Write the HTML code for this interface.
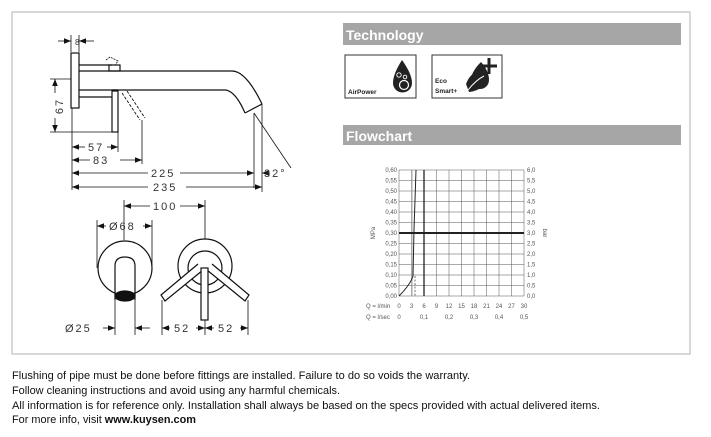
<!DOCTYPE html>
<html><head><meta charset="utf-8"><style>
html,body{margin:0;padding:0;background:#fff;}
svg{display:block;}
.d{font-family:"Liberation Sans",sans-serif;font-size:11px;fill:#333;letter-spacing:2px;}
.c{font-family:"Liberation Sans",sans-serif;font-size:6px;fill:#555;}
.n{font-family:"Liberation Sans",sans-serif;font-size:11px;fill:#111;}
</style></head><body>
<svg width="711" height="437" viewBox="0 0 711 437" xmlns="http://www.w3.org/2000/svg">
<defs>
<marker id="a" viewBox="0 0 10 10" refX="10" refY="5" markerWidth="9" markerHeight="9" orient="auto-start-reverse"><path d="M0,1 L10,5 L0,9 z" fill="#111"/></marker>
</defs>
<rect x="12" y="12" width="678" height="342" fill="none" stroke="#ccc" stroke-width="1.5"/>

<g stroke="#111" stroke-width="1.2" fill="none">
<rect x="71" y="53" width="8" height="55" fill="#fff"/>
<line x1="79" y1="65" x2="112" y2="65"/><line x1="79" y1="71" x2="112" y2="71"/>
<rect x="109" y="65" width="11" height="6"/>
<path d="M112,71 L232,71 Q246,71 262,104"/>
<path d="M112,90 L226,90 Q236,92 245,113"/>
<line x1="245" y1="113" x2="262" y2="104"/>
<line x1="79" y1="90" x2="118" y2="90"/><line x1="79" y1="97" x2="112" y2="97"/>
<rect x="112" y="91" width="6" height="41" fill="#fff"/>
<path d="M122,93 L140,120 M127,91 L145,118" stroke-dasharray="3,1.5" stroke-width="0.9"/>
<path d="M106,60 L110,57 L118,61 L115,65" stroke-dasharray="2,1" stroke-width="0.8"/>
<g stroke-width="0.8">
<line x1="71" y1="35" x2="71" y2="52"/><line x1="79" y1="35" x2="79" y2="52"/>
<line x1="58" y1="41" x2="71" y2="41" marker-end="url(#a)"/><line x1="94" y1="41" x2="79" y2="41" marker-end="url(#a)"/>
<line x1="50" y1="79" x2="71" y2="79"/><line x1="50" y1="132" x2="116" y2="132"/>
<line x1="55" y1="93" x2="55" y2="79" marker-end="url(#a)"/><line x1="55" y1="118" x2="55" y2="132" marker-end="url(#a)"/>
<line x1="72" y1="108" x2="72" y2="190"/>
<line x1="118" y1="132" x2="118" y2="152"/><line x1="142" y1="120" x2="142" y2="164"/>
<line x1="254" y1="113" x2="254" y2="188"/><line x1="262" y1="104" x2="262" y2="192"/>
<line x1="254" y1="113" x2="291" y2="168"/>
<line x1="85" y1="147" x2="72" y2="147" marker-end="url(#a)"/><line x1="107" y1="147" x2="118" y2="147" marker-end="url(#a)"/>
<line x1="90" y1="160" x2="72" y2="160" marker-end="url(#a)"/><line x1="120" y1="160" x2="142" y2="160" marker-end="url(#a)"/>
<line x1="148" y1="173" x2="72" y2="173" marker-end="url(#a)"/><line x1="180" y1="173" x2="254" y2="173" marker-end="url(#a)"/>
<line x1="270" y1="173" x2="262" y2="173" marker-end="url(#a)"/>
<line x1="148" y1="187" x2="72" y2="187" marker-end="url(#a)"/><line x1="186" y1="187" x2="262" y2="187" marker-end="url(#a)"/>
</g>
<circle cx="125" cy="268" r="27"/>
<path d="M115,300 L115,266 Q115,257 125,257 Q135,257 135,266 L135,300"/>
<ellipse cx="125" cy="296" rx="10" ry="5" fill="#111"/>
<circle cx="205" cy="266" r="27"/>
<circle cx="205" cy="268" r="17" fill="#fff"/>
<path d="M198,264 L161,295 L165,301 L203,270" fill="#fff"/>
<path d="M212,264 L249,295 L245,301 L207,270" fill="#fff"/>
<rect x="201" y="268" width="7" height="52" fill="#fff"/>
<g stroke-width="0.8">
<line x1="124" y1="200" x2="124" y2="240"/><line x1="205" y1="200" x2="205" y2="239"/>
<line x1="97" y1="220" x2="97" y2="268"/><line x1="152" y1="220" x2="152" y2="268"/>
<line x1="115" y1="300" x2="115" y2="335"/><line x1="135" y1="300" x2="135" y2="335"/>
<line x1="162" y1="300" x2="162" y2="335"/><line x1="248" y1="300" x2="248" y2="335"/>
<line x1="205" y1="320" x2="205" y2="335"/>
<line x1="150" y1="206" x2="124" y2="206" marker-end="url(#a)"/><line x1="180" y1="206" x2="205" y2="206" marker-end="url(#a)"/>
<line x1="106" y1="226" x2="97" y2="226" marker-end="url(#a)"/><line x1="143" y1="226" x2="152" y2="226" marker-end="url(#a)"/>
<line x1="103" y1="328" x2="115" y2="328" marker-end="url(#a)"/><line x1="150" y1="328" x2="135" y2="328" marker-end="url(#a)"/>
<line x1="170" y1="328" x2="162" y2="328" marker-end="url(#a)"/><line x1="196" y1="328" x2="205" y2="328" marker-end="url(#a)"/>
<line x1="214" y1="328" x2="205" y2="328" marker-end="url(#a)"/><line x1="240" y1="328" x2="248" y2="328" marker-end="url(#a)"/>
</g>
</g>
<text class="d" x="75" y="45" style="font-size:8px">8</text>
<text class="d" transform="translate(63,106) rotate(-90)" text-anchor="middle">67</text>
<text class="d" x="88" y="151">57</text>
<text class="d" x="93" y="164">83</text>
<text class="d" x="151" y="177">225</text>
<text class="d" x="153" y="191">235</text>
<text class="d" x="264" y="177">32°</text>
<text class="d" x="153" y="210">100</text>
<text class="d" x="109" y="230">Ø68</text>
<text class="d" x="65" y="332">Ø25</text>
<text class="d" x="174" y="332">52</text>
<text class="d" x="218" y="332">52</text>

<rect x="343" y="23" width="338" height="22" fill="#a6a6a6"/>
<text x="346" y="40" font-family="Liberation Sans,sans-serif" font-size="14" font-weight="bold" fill="#fff">Technology</text>
<rect x="345" y="55" width="71" height="43" fill="none" stroke="#333" stroke-width="1"/>
<text x="348" y="94" font-family="Liberation Sans,sans-serif" font-size="6.5" font-weight="bold" fill="#222">AirPower</text>
<path d="M402,60 Q393,74 393,83 A9.5,9.5 0 0 0 412,83 Q412,74 402,60 z" fill="#222"/>
<circle cx="404" cy="85" r="4.5" fill="none" stroke="#fff" stroke-width="1.2"/>
<circle cx="399" cy="75" r="2.2" fill="none" stroke="#fff" stroke-width="0.9"/>
<circle cx="405" cy="77" r="1.8" fill="none" stroke="#fff" stroke-width="0.9"/>
<rect x="432" y="55" width="70" height="43" fill="none" stroke="#333" stroke-width="1"/>
<text x="435" y="83" font-family="Liberation Sans,sans-serif" font-size="6.5" font-weight="bold" fill="#222">Eco</text>
<text x="435" y="93" font-family="Liberation Sans,sans-serif" font-size="6.5" font-weight="bold" fill="#222">Smart+</text>
<path d="M481,62 Q471,72 471,80 A9,9 0 0 0 489,80 Q489,71 481,62 z" fill="#222"/>
<path d="M466,84 Q472,68 487,73 Q487,90 469,92 z" fill="#222"/>
<path d="M468,90 Q476,80 484,76" stroke="#fff" stroke-width="1" fill="none"/>
<path d="M489,58 L489,74 M481,66 L497,66" stroke="#222" stroke-width="3"/>

<rect x="343" y="125" width="338" height="20" fill="#a6a6a6"/>
<text x="346" y="141" font-family="Liberation Sans,sans-serif" font-size="14" font-weight="bold" fill="#fff">Flowchart</text>
<g stroke="#555" stroke-width="0.5">
<line x1="399" y1="170" x2="524" y2="170"/><line x1="399" y1="180.5" x2="524" y2="180.5"/><line x1="399" y1="191" x2="524" y2="191"/><line x1="399" y1="201.5" x2="524" y2="201.5"/><line x1="399" y1="212" x2="524" y2="212"/><line x1="399" y1="222.5" x2="524" y2="222.5"/><line x1="399" y1="243.5" x2="524" y2="243.5"/><line x1="399" y1="254" x2="524" y2="254"/><line x1="399" y1="264.5" x2="524" y2="264.5"/><line x1="399" y1="275" x2="524" y2="275"/><line x1="399" y1="285.5" x2="524" y2="285.5"/><line x1="399" y1="296" x2="524" y2="296"/>
<line x1="399" y1="170" x2="399" y2="296"/><line x1="411.5" y1="170" x2="411.5" y2="296"/><line x1="436.5" y1="170" x2="436.5" y2="296"/><line x1="449" y1="170" x2="449" y2="296"/><line x1="461.5" y1="170" x2="461.5" y2="296"/><line x1="474" y1="170" x2="474" y2="296"/><line x1="486.5" y1="170" x2="486.5" y2="296"/><line x1="499" y1="170" x2="499" y2="296"/><line x1="511.5" y1="170" x2="511.5" y2="296"/><line x1="524" y1="170" x2="524" y2="296"/>
</g>
<line x1="412" y1="170" x2="412" y2="296" stroke="#aaa" stroke-width="1"/>
<line x1="424" y1="170" x2="424" y2="296" stroke="#111" stroke-width="1.2"/>
<line x1="399" y1="233" x2="524" y2="233" stroke="#222" stroke-width="2"/>
<path d="M399,296 Q410,285 413,276 L414,230 L416,170" fill="none" stroke="#222" stroke-width="1"/>
<line x1="415" y1="276" x2="415" y2="296" stroke="#333" stroke-width="0.7" stroke-dasharray="2,1.5"/>
<g class="c" text-anchor="end">
<text x="397" y="172">0,60</text><text x="397" y="182.5">0,55</text><text x="397" y="193">0,50</text><text x="397" y="203.5">0,45</text><text x="397" y="214">0,40</text><text x="397" y="224.5">0,35</text><text x="397" y="235">0,30</text><text x="397" y="245.5">0,25</text><text x="397" y="256">0,20</text><text x="397" y="266.5">0,15</text><text x="397" y="277">0,10</text><text x="397" y="287.5">0,05</text><text x="397" y="298">0,00</text>
</g>
<g class="c">
<text x="527" y="172">6,0</text><text x="527" y="182.5">5,5</text><text x="527" y="193">5,0</text><text x="527" y="203.5">4,5</text><text x="527" y="214">4,0</text><text x="527" y="224.5">3,5</text><text x="527" y="235">3,0</text><text x="527" y="245.5">2,5</text><text x="527" y="256">2,0</text><text x="527" y="266.5">1,5</text><text x="527" y="277">1,0</text><text x="527" y="287.5">0,5</text><text x="527" y="298">0,0</text>
<text transform="translate(375,233) rotate(-90)" text-anchor="middle">MPa</text>
<text transform="translate(543,233) rotate(90)" text-anchor="middle">bar</text>
<text x="366" y="308">Q = l/min</text>
<text x="399" y="308" text-anchor="middle">0</text><text x="411.5" y="308" text-anchor="middle">3</text><text x="424" y="308" text-anchor="middle">6</text><text x="436.5" y="308" text-anchor="middle">9</text><text x="449" y="308" text-anchor="middle">12</text><text x="461.5" y="308" text-anchor="middle">15</text><text x="474" y="308" text-anchor="middle">18</text><text x="486.5" y="308" text-anchor="middle">21</text><text x="499" y="308" text-anchor="middle">24</text><text x="511.5" y="308" text-anchor="middle">27</text><text x="524" y="308" text-anchor="middle">30</text>
<text x="366" y="319">Q = l/sec</text>
<text x="399" y="319" text-anchor="middle">0</text><text x="424" y="319" text-anchor="middle">0,1</text><text x="449" y="319" text-anchor="middle">0,2</text><text x="474" y="319" text-anchor="middle">0,3</text><text x="499" y="319" text-anchor="middle">0,4</text><text x="524" y="319" text-anchor="middle">0,5</text>
</g>

<text class="n" x="12" y="379" textLength="458" lengthAdjust="spacingAndGlyphs">Flushing of pipe must be done before fittings are installed. Failure to do so voids the warranty.</text>
<text class="n" x="12" y="394" textLength="328" lengthAdjust="spacingAndGlyphs">Follow cleaning instructions and avoid using any harmful chemicals.</text>
<text class="n" x="12" y="409" textLength="588" lengthAdjust="spacingAndGlyphs">All information is for reference only. Installation shall always be based on the specs provided with actual delivered items.</text>
<text class="n" x="12" y="423" textLength="184" lengthAdjust="spacingAndGlyphs">For more info, visit <tspan font-weight="bold">www.kuysen.com</tspan></text>
</svg>
</body></html>
